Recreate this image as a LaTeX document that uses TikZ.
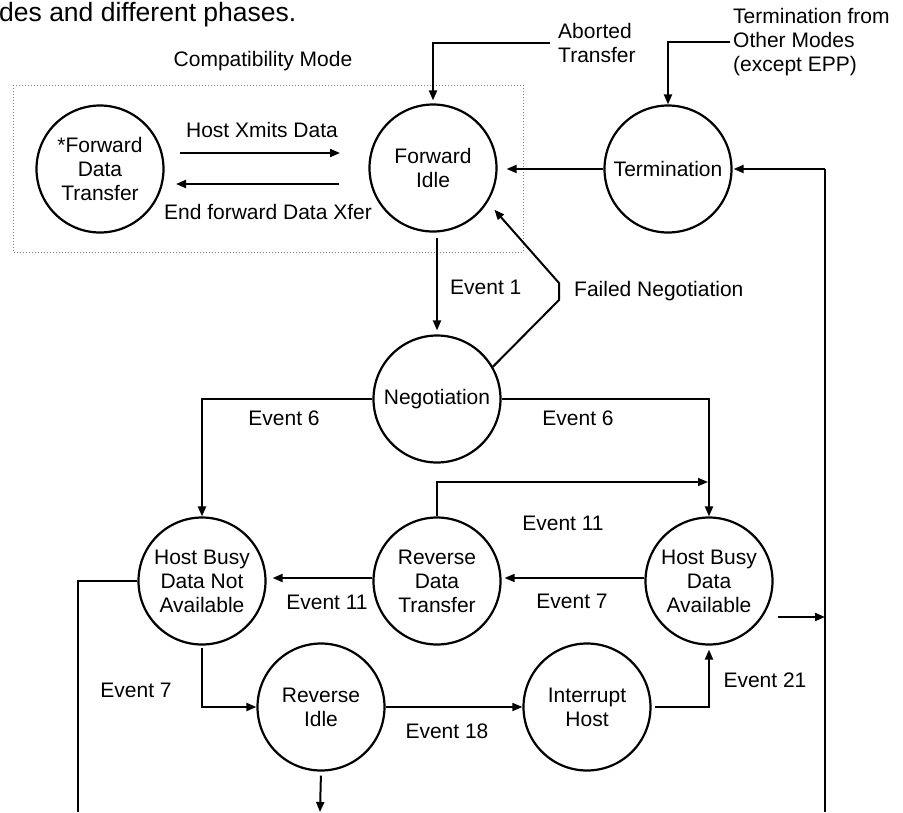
\documentclass[tikz,border=0pt]{standalone}
\usepackage{fontspec}
\setmainfont{Liberation Sans}
\usetikzlibrary{arrows.meta,calc}
\begin{document}
\begin{tikzpicture}[x=1pt,y=-1pt,
  state/.style={circle,draw,line width=2.2pt,minimum size=127pt,inner sep=0pt,align=center,font=\fontsize{21}{24}\selectfont},
  lbl/.style={inner sep=0pt,font=\fontsize{21}{24}\selectfont},
  conn/.style={line width=2pt},
  thinconn/.style={line width=1.6pt},
  thickconn/.style={line width=2.6pt},
  tip/.style={-{Triangle[length=10pt,width=8pt]}},
]
\useasboundingbox (0,0) rectangle (903,812);

% heading fragment
\node[anchor=base west,inner sep=0pt,font=\fontsize{26.5}{30}\selectfont] (head) at (-1,21) {des and different phases.};

% compatibility mode frame
\draw[dotted,gray,line width=1pt] (13,85) rectangle (523,252);
\node[lbl] (cm) at (263,61) {Compatibility Mode};

% states
\node[state] (fdt) at (100,169) {*Forward\\Data\\Transfer};
\node[state] (fi) at (433,168) {Forward\\Idle};
\node[state] (term) at (668,169) {Termination};
\node[state] (neg) at (437,399) {Negotiation};
\node[state] (hbdna) at (202,581) {Host Busy\\Data Not\\Available};
\node[state] (rdt) at (437,581) {Reverse\\Data\\Transfer};
\node[state] (hbda) at (709,581) {Host Busy\\Data\\Available};
\node[state] (ri) at (321,707) {Reverse\\Idle};
\node[state] (ih) at (587,707) {Interrupt\\Host};

% free ends
\coordinate (hx1) at (180,153);
\coordinate (hx2) at (340,153);
\coordinate (ef1) at (339,184);
\coordinate (ef2) at (176,184);
\coordinate (rtop) at (825,169);
\coordinate (rbot) at (825,812);
\coordinate (hbdaout) at (778,617);
\coordinate (fn1) at (559,300);
\coordinate (fn2) at (559,283);
\coordinate (e11r) at (708,482);
\coordinate (lbot) at (78,812);
\coordinate (ribot) at (320,812);

% labels of incoming transitions
\node[lbl,anchor=west,align=left,inner xsep=8pt] (ab) at (550,43) {Aborted\\Transfer};
\node[lbl,anchor=west,align=left,inner xsep=3pt] (tf) at (730,42) {Termination from\\Other Modes\\(except EPP)};

% connectors
\draw[conn,tip] (hx1) -- (hx2);
\draw[conn,tip] (ef1) -- (ef2);
\draw[conn,tip,shorten >=3pt] (ab.west) -- (ab.west -| fi.north) -- (fi.north);
\draw[conn,tip] (tf.west) -- (tf.west -| term.north) -- (term.north);
\draw[conn,tip,shorten >=9pt] (term.west) -- (term.west -| fi.east);
\draw[thickconn] (rbot) -- (rtop);
\draw[conn,tip,shorten >=1pt] (rtop) -- (term.east);
\draw[conn,tip] (hbdaout) -- (hbdaout -| rtop);
\draw[conn,tip,shorten <=5pt,shorten >=4pt] (fi.south -| neg.north) -- (neg.north);
\draw[conn,tip,shorten >=10pt] (neg.30) -- (fn1) -- (fn2) -- (fi.-32);
\draw[conn,tip] (neg.west) -- (neg.west -| hbdna.north) -- (hbdna.north);
\draw[conn,tip] (neg.east) -- (neg.east -| hbda.north) -- (hbda.north);
\draw[thinconn,tip] (rdt.north) |- (e11r);
\draw[thinconn,tip,shorten >=3pt] ([yshift=3pt]hbda.west) -- ([yshift=3pt]hbda.west -| rdt.east);
\draw[conn,tip,shorten >=6pt] ([yshift=3pt]rdt.west) -- ([yshift=3pt]rdt.west -| hbdna.east);
\draw[conn] (hbdna.west) -| (lbot);
\draw[conn,tip,shorten <=2pt] (hbdna.south) |- (ri.west);
\draw[thinconn,tip] (ri.east) -- (ih.west);
\draw[conn,tip,shorten <=4pt] (ri.south) -- (ribot);
\draw[conn,tip,shorten <=3pt,shorten >=4pt] (ih.east) -| (hbda.south);

% transition labels
\node[lbl] (l1) at (262,130) {Host Xmits Data};
\node[lbl] (l2) at (268,212) {End forward Data Xfer};
\node[lbl,anchor=west] (l3) at (450,287) {Event 1};
\node[lbl,anchor=west] (l4) at (574,291) {Failed Negotiation};
\node[lbl] (l5) at (284,418) {Event 6};
\node[lbl] (l6) at (578,418) {Event 6};
\node[lbl] (l7) at (563,523) {Event 11};
\node[lbl] (l8) at (572,601) {Event 7};
\node[lbl] (l9) at (327,602) {Event 11};
\node[lbl] (l10) at (136,690) {Event 7};
\node[lbl] (l11) at (447,731) {Event 18};
\node[lbl] (l12) at (765,680) {Event 21};
\end{tikzpicture}
\end{document}
